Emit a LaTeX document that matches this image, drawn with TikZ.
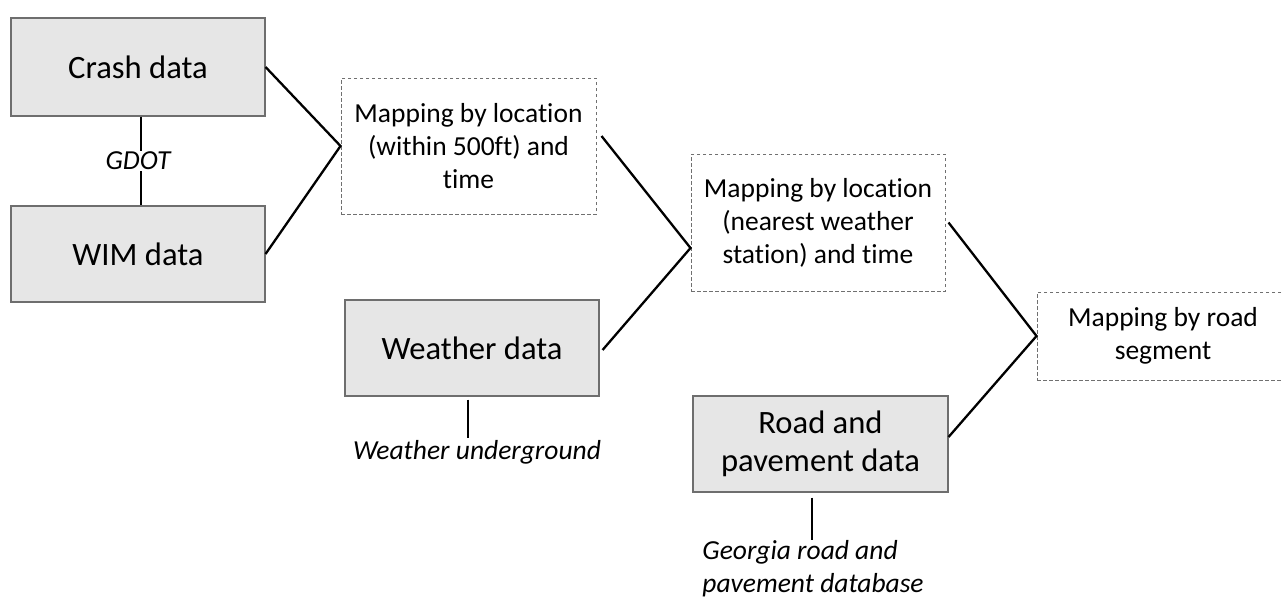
\documentclass[tikz,border=0pt]{standalone}
\usepackage{fontspec}
\setmainfont{Carlito}[Ligatures=NoCommon]
\definecolor{boxfill}{HTML}{E6E6E6}
\definecolor{boxline}{HTML}{6E6E6E}
\definecolor{dashline}{HTML}{707070}
\begin{document}
\begin{tikzpicture}[x=1pt,y=-1pt,
  databox/.style={draw=boxline,fill=boxfill,line width=1.1pt,inner sep=0pt,
    minimum width=254pt,minimum height=96pt,align=center,
    font=\fontsize{32.6}{38}\selectfont},
  mapbox/.style={draw=dashline,dash pattern=on 3.5pt off 2.5pt,line width=1pt,inner sep=0pt,
    minimum width=254pt,align=center,font=\fontsize{27.5}{33}\selectfont},
  src/.style={inner sep=2pt,font=\fontsize{27.5}{33}\selectfont\itshape},
  conn/.style={line width=2.3pt,black},
  srcline/.style={line width=2.3pt,black}]
\useasboundingbox (0,0) rectangle (1282,597);
\clip (0,0) rectangle (1282,597);
\fill[white] (0,0) rectangle (1282,597);
% data boxes
\node[databox,minimum height=98pt] (crash) at (138,67) {Crash data};
\node[databox] (wim) at (138,254) {WIM data};
\node[databox] (weather) at (472,348) {Weather data};
\node[databox,minimum width=255pt] (road) at (820.5,444) {Road and\\pavement data};
% mapping boxes
\node[mapbox,minimum width=255pt,minimum height=136pt] (d1) at (468.5,146) {Mapping by location\\(within 500ft) and\\time};
\node[mapbox,minimum height=137pt] (d2) at (818,222.5) {Mapping by location\\(nearest weather\\station) and time};
\node[mapbox,minimum width=252pt,minimum height=88pt] (d3) at (1163,336) {Mapping by road\\segment};
% source labels
\node[src] (gdot) at (138,161) {GDOT};
\node[src] (wu) at (477,452) {Weather underground};
\node[src,align=left] (geo) at (813,568.5) {Georgia road and\\pavement database};
% source lines
\coordinate (rs) at ([xshift=-8.5pt,yshift=-5pt]road.south);
\coordinate (ws) at ([xshift=-4pt,yshift=-3pt]weather.south);
\draw[srcline] ([xshift=3pt]crash.south) -- ([xshift=3pt,yshift=-1pt]gdot.north);
\draw[srcline] ([xshift=3pt,yshift=1pt]gdot.south) -- ([xshift=3pt]wim.north);
\draw[srcline] (ws) -- (ws |- wu.north);
\draw[srcline] (rs) -- ([yshift=-1.5pt]rs |- geo.north);
% connectors
\coordinate (c1) at (d1.west);
\coordinate (c2) at ([yshift=-25.5pt]d2.west);
\coordinate (c3) at (d3.west);
\draw[conn] (crash.east) -- (c1) -- (wim.east);
\draw[conn] ([xshift=5pt,yshift=10pt]d1.east) -- (c2) -- ([xshift=3pt,yshift=-2pt]weather.east);
\draw[conn] ([xshift=3pt]d2.east) -- (c3) -- ([yshift=7pt]road.east);
\end{tikzpicture}
\end{document}
